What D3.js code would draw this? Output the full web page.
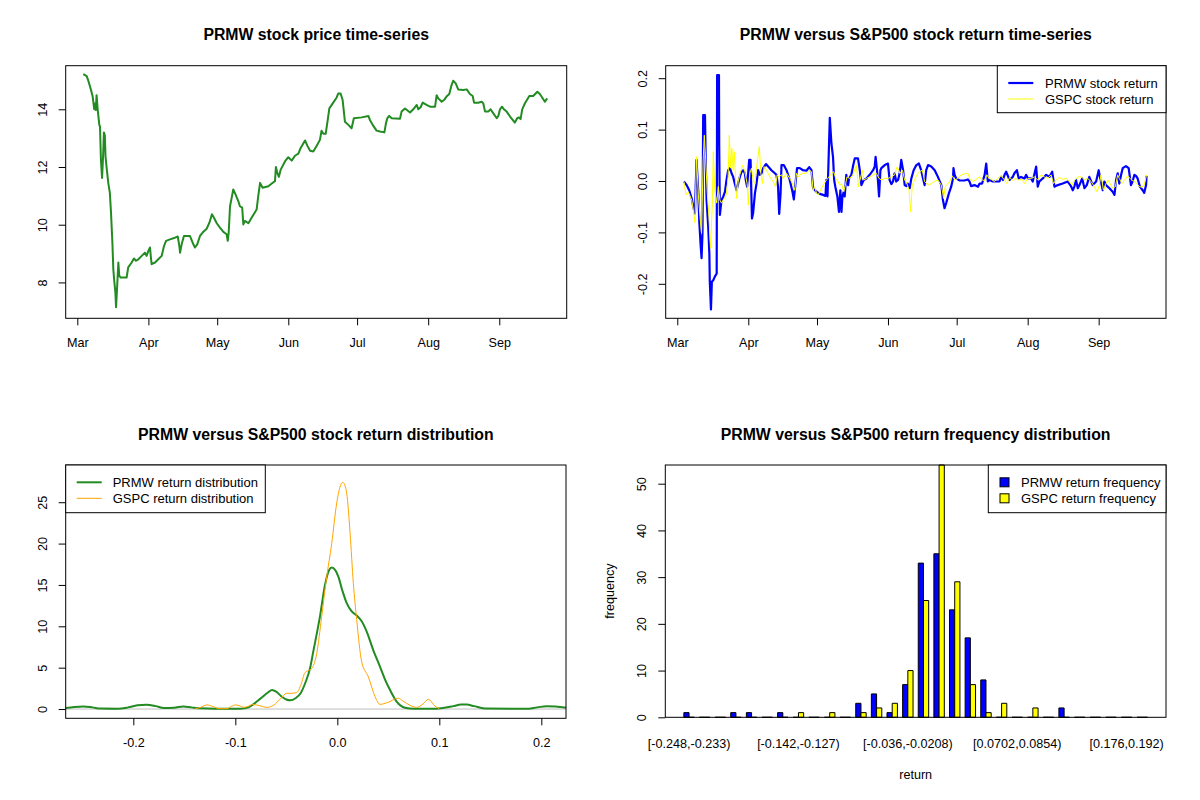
<!DOCTYPE html>
<html>
<head>
<meta charset="utf-8">
<script src="https://cdn.jsdelivr.net/npm/d3@7"></script>
<style>
  body { margin: 0; background: #fff; }
  svg text { font-family: "Liberation Sans", Arial, sans-serif; fill: #000; }
</style>
</head>
<body>
<svg id="chart" width="1200" height="800"></svg>
<script>
// ---- data ----
// days counted from 2020-03-01
const priceDays = [2.6,4.1,4.8,5.8,6.7,7.4,7.8,8.1,8.4,8.9,9.6,9.9,10.3,10.8,11.3,11.6,12.0,12.3,12.8,13.5,14.2,14.7,15.3,15.7,16.1,16.6,16.9,17.4,17.9,18.3,18.9,21.5,22.2,23.7,24.7,25.6,26.6,28.1,29.5,30.2,31.0,31.7,32.1,32.4,33.9,35.3,36.8,37.8,38.7,40.4,42.6,43.8,44.5,44.8,45.5,46.5,49.1,50.6,51.3,52.3,53.5,54.9,56.4,57.6,58.7,59.6,60.8,62.2,63.7,65.1,65.6,66.0,66.6,67.3,68.0,68.7,70.2,70.9,71.9,72.4,73.1,74.6,76.0,78.2,78.9,79.7,80.8,83.3,85.5,86.2,86.6,87.2,87.9,88.7,90.6,92.0,93.5,94.9,96.4,97.4,99.3,100.3,101.5,102.9,104.4,105.8,106.5,107.3,108.3,109.2,109.9,111.6,113.1,113.8,114.8,115.7,116.7,118.2,119.6,120.6,124.0,126.9,127.6,128.8,130.5,132.0,133.9,134.6,135.2,136.0,137.1,140.7,141.4,142.9,145.1,146.5,148.0,148.7,149.7,150.6,152.3,153.8,156.0,156.7,157.4,158.9,159.9,161.0,162.2,163.2,163.9,165.0,166.1,168.3,169.8,171.2,172.4,173.0,174.8,176.3,177.0,177.8,179.2,180.2,181.4,182.9,183.6,184.3,185.2,186.0,187.2,188.7,190.8,191.8,192.6,193.3,194.0,195.2,197.1,198.8,200.6,201.7,203.9,204.9];
const prices = [15.22,15.15,14.99,14.72,14.44,14.0,14.2,13.98,14.49,13.98,13.46,13.4,12.25,11.62,12.48,13.2,13.1,12.37,11.97,11.45,11.1,10.41,9.38,8.46,8.06,7.66,7.14,7.89,8.69,8.23,8.17,8.17,8.52,8.69,8.83,8.75,8.8,8.92,9.03,8.92,9.09,9.21,8.86,8.63,8.69,8.8,8.92,9.26,9.44,9.49,9.55,9.59,9.26,9.03,9.32,9.61,9.61,9.32,9.21,9.32,9.61,9.75,9.86,10.07,10.36,10.24,10.05,9.9,9.75,9.67,9.44,9.72,10.64,10.93,11.22,11.1,10.82,10.64,10.59,10.01,10.13,10.05,10.24,10.53,10.99,11.45,11.28,11.33,11.47,11.51,12.0,11.8,11.66,11.91,12.2,12.34,12.22,12.39,12.46,12.66,12.92,12.74,12.56,12.54,12.74,12.94,13.26,13.15,13.15,13.63,14.03,14.23,14.41,14.55,14.55,14.32,13.57,13.46,13.34,13.69,13.72,13.77,13.63,13.46,13.26,13.23,13.2,13.52,13.69,13.77,13.69,13.67,13.92,14.03,13.89,14.0,14.15,14.0,14.07,14.23,14.15,14.09,14.09,14.49,14.38,14.26,14.32,14.44,14.53,14.84,14.99,14.9,14.69,14.67,14.69,14.53,14.46,14.23,14.23,14.26,14.21,13.92,13.92,14.0,13.86,13.69,13.77,14.0,14.09,14.0,13.92,13.75,13.54,13.69,13.72,13.66,14.0,14.21,14.46,14.46,14.61,14.53,14.26,14.38];

const prmwRetDays = [2.9,4.1,5.2,6.3,7.0,7.7,8.4,9.2,9.6,10.2,10.6,11.0,11.3,12.1,12.4,12.8,13.5,14.0,14.2,14.7,15.1,15.7,16.4,17.2,17.4,18.2,18.3,18.6,19.3,20.1,20.8,21.5,22.2,23.0,23.7,24.4,25.1,25.9,26.6,27.3,28.1,28.8,29.5,29.9,30.5,31.4,32.0,32.6,33.1,33.9,34.6,35.3,36.0,36.8,37.5,38.7,39.7,41.1,42.6,43.3,44.0,44.5,45.1,45.5,46.5,47.7,49.1,50.3,50.9,51.6,52.3,53.5,54.9,56.4,57.6,58.6,59.3,60.8,62.2,63.7,64.7,65.1,65.6,66.1,66.6,67.3,68.0,68.5,69.0,69.9,70.6,71.2,71.7,72.1,72.7,73.1,73.8,74.6,75.0,76.0,76.7,77.5,78.9,79.7,80.4,81.4,82.6,84.0,85.5,86.2,86.6,87.2,87.6,88.1,88.7,89.1,90.6,92.0,92.7,93.5,94.2,94.9,95.6,96.4,97.1,97.8,98.6,99.3,100.0,100.7,101.5,102.2,103.2,104.4,105.5,106.5,107.3,108.0,108.7,109.5,110.9,112.4,113.8,115.3,116.0,116.7,117.4,118.6,119.6,120.4,120.6,121.1,121.8,123.3,125.4,126.9,127.6,128.3,129.8,131.3,132.0,133.1,134.2,134.9,135.6,136.3,137.8,140.7,141.4,142.2,142.9,143.6,145.1,146.5,147.2,148.3,149.1,150.1,151.6,152.3,153.1,154.5,155.2,156.7,157.4,158.1,159.6,161.1,162.5,163.7,164.7,166.1,168.3,170.5,171.9,172.7,173.4,174.1,174.9,175.6,176.8,177.8,178.8,179.9,181.4,182.9,184.0,184.7,185.8,186.5,187.2,188.7,190.1,190.9,191.6,192.3,193.0,193.8,194.5,195.9,197.1,198.1,198.8,199.6,200.3,201.0,202.0,203.2,203.9,204.7,204.9];
const prmwReturns = [-0.001,-0.008,-0.018,-0.034,-0.050,-0.063,0.041,-0.024,-0.079,-0.125,-0.150,-0.102,0.128,0.128,0.041,-0.037,-0.089,-0.141,-0.196,-0.250,-0.196,-0.193,-0.186,-0.180,0.206,0.206,0.070,-0.066,-0.037,-0.030,-0.021,0.002,0.021,0.025,0.015,0.008,-0.005,-0.018,-0.005,0.008,0.018,0.021,0.015,0.002,-0.011,0.041,0.041,-0.073,-0.063,-0.024,-0.005,0.021,0.012,0.015,0.025,0.033,0.028,0.021,0.015,0.012,-0.011,-0.064,-0.024,0.031,0.031,0.021,0.002,-0.021,-0.036,-0.005,0.025,0.025,0.021,0.020,0.027,0.021,-0.014,-0.021,-0.025,-0.027,-0.029,0.002,-0.030,0.047,0.123,0.073,0.047,0.002,-0.011,-0.030,-0.060,-0.018,-0.060,-0.030,-0.021,-0.030,0.012,-0.008,0.005,0.012,0.028,0.044,0.044,0.021,-0.008,0.002,0.005,0.012,0.021,0.028,0.047,0.021,0.002,-0.030,0.021,0.025,0.031,0.034,0.002,-0.006,-0.001,0.015,-0.001,0.002,0.015,0.041,0.021,-0.008,-0.010,-0.005,-0.014,0.005,0.021,0.031,0.034,0.021,0.005,-0.008,0.021,0.031,0.028,0.021,0.008,-0.008,-0.037,-0.053,-0.043,-0.024,-0.011,0.005,0.025,0.012,0.005,0.001,0.001,0.003,-0.001,-0.010,-0.008,-0.011,-0.005,-0.005,0.012,0.034,-0.001,0.002,-0.001,-0.001,0.008,0.002,0.012,0.018,0.002,0.008,0.015,0.021,0.005,0.008,0.005,0.012,0.005,0.005,-0.001,0.028,-0.011,-0.001,0.005,0.012,0.008,0.018,-0.011,-0.008,-0.005,-0.001,-0.010,-0.018,-0.011,0.002,-0.014,-0.008,0.005,-0.014,-0.008,0.008,-0.008,-0.001,0.021,0.005,-0.018,-0.001,-0.008,-0.014,-0.021,-0.027,0.002,0.015,-0.005,0.012,0.025,0.029,0.025,-0.008,-0.001,0.012,0.010,0.005,-0.011,-0.018,-0.023,-0.008,0.010];

const gspcRetDays = [2.9,3.8,4.8,6.3,7.0,7.7,8.4,9.2,9.9,10.6,11.3,11.8,12.4,13.1,13.8,14.5,15.3,15.7,16.4,17.2,17.9,18.6,19.3,20.1,20.8,21.5,22.2,22.7,23.3,23.8,24.4,24.9,25.4,25.9,26.6,27.3,28.5,29.5,30.5,31.0,31.7,32.4,33.1,33.9,34.6,35.8,36.5,37.2,37.9,39.0,40.4,41.9,42.9,43.6,44.3,45.5,46.2,47.7,49.1,50.3,51.3,52.0,52.8,53.5,54.9,56.4,57.6,58.6,59.3,60.0,60.8,61.5,62.2,63.7,65.1,65.8,67.3,68.3,69.2,70.2,70.9,71.7,72.7,73.4,74.1,75.3,76.7,78.2,79.1,80.1,80.8,81.4,82.6,84.0,85.5,86.9,88.1,89.1,90.6,92.0,93.5,94.9,95.9,96.8,97.1,98.3,99.3,100.3,101.2,101.9,102.6,103.6,104.7,105.8,107.0,108.0,109.5,110.9,112.4,113.8,115.3,116.3,117.0,118.2,119.2,120.1,121.1,122.5,124.0,125.4,126.9,127.9,129.1,130.5,132.0,133.1,134.2,135.2,136.1,137.1,138.5,140.0,141.4,142.9,143.9,145.1,146.5,147.7,149.1,150.6,151.6,153.1,154.5,156.0,157.4,158.9,160.3,161.8,163.2,164.3,165.4,166.9,168.3,169.8,171.2,172.4,173.4,174.9,176.3,177.8,179.2,180.7,182.1,183.3,184.3,185.0,186.1,187.2,188.0,189.0,190.1,191.3,192.3,193.0,194.2,195.2,196.7,198.1,199.6,200.6,201.8,202.9,203.9,204.9];
const gspcReturns = [-0.001,-0.027,-0.021,-0.037,-0.056,-0.081,0.047,-0.027,-0.069,-0.102,0.041,0.089,0.041,-0.024,-0.069,-0.131,-0.043,0.057,-0.018,-0.043,-0.011,-0.037,-0.043,-0.037,-0.034,-0.024,0.008,0.089,0.025,0.064,0.021,0.057,0.008,-0.034,-0.001,0.012,0.031,0.018,-0.005,-0.047,0.015,0.025,0.002,-0.005,0.025,0.067,0.015,-0.005,0.028,0.021,0.008,-0.001,-0.011,0.012,0.008,0.012,0.005,0.015,0.005,-0.005,-0.018,0.015,0.008,0.012,0.015,0.015,0.021,0.018,-0.018,-0.011,-0.024,-0.027,-0.021,-0.008,0.002,0.005,0.015,0.018,0.005,-0.001,-0.008,-0.005,-0.021,-0.008,0.008,0.005,0.012,0.031,-0.011,0.008,0.021,0.002,0.005,0.008,0.012,0.015,0.005,0.002,0.005,0.005,0.008,0.012,0.027,0.021,0.015,0.021,0.002,-0.005,-0.018,-0.060,-0.008,0.002,0.012,0.018,0.021,-0.001,-0.008,-0.005,-0.001,0.002,-0.008,-0.034,-0.011,-0.005,0.001,0.010,0.002,0.005,0.012,0.014,0.015,0.003,-0.001,0.003,0.008,0.002,0.001,0.012,0.005,0.003,-0.001,0.005,0.010,0.002,-0.005,0.007,0.001,0.005,0.002,0.003,-0.005,0.005,0.005,0.008,0.002,0.012,0.008,0.005,0.012,-0.005,0.002,0.007,0.003,0.005,-0.001,-0.008,0.001,0.008,0.008,0.003,0.005,-0.001,-0.011,-0.021,-0.008,0.012,-0.018,-0.005,0.002,-0.005,-0.014,-0.011,0.012,0.005,-0.005,0.001,0.010,0.003,-0.001,-0.005,-0.011,-0.012,-0.008,0.012];

// kernel density curves (return, density)
const prmwDensX = [-0.2663,-0.258,-0.249,-0.240,-0.232,-0.215,-0.205,-0.196,-0.187,-0.178,-0.170,-0.160,-0.151,-0.143,-0.134,-0.120,-0.095,-0.087,-0.076,-0.068,-0.064,-0.060,-0.055,-0.050,-0.046,-0.041,-0.036,-0.031,-0.0268,-0.0235,-0.020,-0.017,-0.0121,-0.008,-0.0055,-0.002,0.001,0.005,0.0092,0.0141,0.019,0.0239,0.0288,0.0353,0.0419,0.047,0.0517,0.0582,0.0664,0.075,0.095,0.105,0.1137,0.1215,0.1269,0.134,0.1465,0.185,0.196,0.205,0.214,0.2242];
const prmwDensY = [0.12,0.25,0.32,0.2,0.05,0.03,0.2,0.45,0.52,0.35,0.12,0.15,0.32,0.2,0.08,0.03,0.03,0.2,1.2,2.0,2.3,2.1,1.55,1.15,1.05,1.3,1.9,3.3,4.9,7.0,9.2,11.2,15.0,16.8,17.1,16.8,16.0,14.3,12.8,11.8,11.3,10.6,9.35,7.1,5.1,3.5,2.3,0.9,0.16,0.03,0.03,0.15,0.35,0.55,0.55,0.35,0.05,0.03,0.2,0.35,0.3,0.15];
const gspcDensX = [-0.1395,-0.134,-0.128,-0.122,-0.116,-0.108,-0.104,-0.100,-0.095,-0.092,-0.088,-0.083,-0.076,-0.069,-0.062,-0.056,-0.0496,-0.0446,-0.0398,-0.0355,-0.0317,-0.0251,-0.0202,-0.0153,-0.0104,-0.0055,-0.0006,0.003,0.0053,0.0075,0.0092,0.0125,0.0157,0.019,0.0239,0.0304,0.037,0.0419,0.047,0.0517,0.056,0.0598,0.064,0.068,0.0778,0.084,0.0892,0.0958,0.100];
const gspcDensY = [0.03,0.2,0.5,0.3,0.05,0.05,0.3,0.5,0.35,0.2,0.3,0.55,0.4,0.2,0.5,1.2,1.9,1.9,2.0,3.0,4.4,4.9,6.7,11.2,16.0,20.0,24.9,27.0,27.4,27.0,26.1,21.3,15.2,10.8,5.7,3.9,1.5,0.56,0.7,0.9,1.2,1.3,1.0,0.68,0.2,0.6,1.17,0.36,0.05];

// return frequency table, 30 bins
const histLabels = ["[-0.248,-0.233)", "[-0.142,-0.127)", "[-0.036,-0.0208)", "[0.0702,0.0854)", "[0.176,0.192)"];
const histLabelBins = [0, 7, 14, 21, 28];
const prmwCounts = [1,0,0,1,1,0,1,0,0,0,0,3,5,1,7,33,35,23,17,8,0,0,0,0,2,0,0,0,0,0];
const gspcCounts = [0,0,0,0,0,0,0,1,0,1,0,1,2,3,10,25,54,29,7,1,3,0,2,0,0,0,0,0,0,0];

const monthTicks = ["2020-03-01","2020-04-01","2020-05-01","2020-06-01","2020-07-01","2020-08-01","2020-09-01"];

// ---- drawing ----
const svg = d3.select("#chart");
const day0 = Date.UTC(2020, 2, 1);
const toDate = d => new Date(day0 + d * 864e5);
const parseDay = d3.utcParse("%Y-%m-%d");
const AXIS_FS = 12.6, LEGEND_FS = 13, TITLE_FS = 15.8;

function frame(b) {
  svg.append("rect")
    .attr("x", b.x0).attr("y", b.y0)
    .attr("width", b.x1 - b.x0).attr("height", b.y1 - b.y0)
    .attr("fill", "none").attr("stroke", "#000").attr("stroke-width", 1);
}

function title(b, txt) {
  svg.append("text")
    .attr("x", (b.x0 + b.x1) / 2).attr("y", b.y0 - 25.5)
    .attr("text-anchor", "middle")
    .attr("font-weight", "bold").attr("font-size", TITLE_FS)
    .text(txt);
}

function bottomAxis(b, scale, ticks, fmt) {
  const g = svg.append("g")
    .attr("transform", `translate(0,${b.y1})`)
    .call(d3.axisBottom(scale).tickValues(ticks).tickFormat(fmt).tickSize(7).tickPadding(13));
  g.select(".domain").remove();
  g.attr("font-family", null).attr("font-size", AXIS_FS);
  g.selectAll("line").attr("stroke", "#000");
}

function leftAxis(b, scale, ticks, fmt) {
  const g = svg.append("g")
    .attr("transform", `translate(${b.x0},0)`)
    .call(d3.axisLeft(scale).tickValues(ticks).tickFormat("").tickSize(7));
  g.select(".domain").remove();
  g.attr("font-family", null).attr("font-size", AXIS_FS);
  g.selectAll("line").attr("stroke", "#000");
  g.selectAll(".tick").append("text")
    .attr("transform", "rotate(-90)")
    .attr("x", 0).attr("y", -19)
    .attr("text-anchor", "middle")
    .text(fmt);
}

function lineLegend(b, items) {
  const lg = svg.append("g");
  lg.append("rect")
    .attr("x", b.x0).attr("y", b.y0)
    .attr("width", b.x1 - b.x0).attr("height", b.y1 - b.y0)
    .attr("fill", "#fff").attr("stroke", "#000");
  items.forEach((it, i) => {
    const y = b.y0 + 17.3 + i * 16;
    if (it.box) {
      lg.append("rect").attr("x", b.x0 + 11.7).attr("y", y - 4.5)
        .attr("width", 9).attr("height", 9)
        .attr("fill", it.color).attr("stroke", "#000");
    } else {
      lg.append("line").attr("x1", b.x0 + 11).attr("x2", b.x0 + 36)
        .attr("y1", y).attr("y2", y)
        .attr("stroke", it.color).attr("stroke-width", it.width);
    }
    lg.append("text").attr("x", b.x0 + it.tx).attr("y", y + 4.6)
      .attr("font-size", LEGEND_FS).text(it.label);
  });
}

const fmt1 = d => d.toFixed(1);

// panel 1: price
{
  const b = { x0: 65.7, x1: 566.7, y0: 65.7, y1: 318.3 };
  const x = d3.scaleUtc().domain([toDate(-5.06), toDate(213.4)]).range([b.x0, b.x1]);
  const y = d3.scaleLinear().domain([6.756, 15.511]).range([b.y1, b.y0]);
  svg.append("path")
    .datum(d3.zip(priceDays, prices))
    .attr("fill", "none").attr("stroke", "#228B22").attr("stroke-width", 2)
    .attr("stroke-linejoin", "round")
    .attr("d", d3.line().x(d => x(toDate(d[0]))).y(d => y(d[1])));
  frame(b);
  title(b, "PRMW stock price time-series");
  bottomAxis(b, x, monthTicks.map(parseDay), d3.utcFormat("%b"));
  leftAxis(b, y, [8, 10, 12, 14], d => d);
}

// panel 2: returns
{
  const b = { x0: 665.7, x1: 1166, y0: 65.7, y1: 318.3 };
  const x = d3.scaleUtc().domain([toDate(-5.06), toDate(213.4)]).range([b.x0, b.x1]);
  const y = d3.scaleLinear().domain([-0.2671, 0.2243]).range([b.y1, b.y0]);
  const ln = d3.line().x(d => x(toDate(d[0]))).y(d => y(d[1]));
  svg.append("path")
    .datum(d3.zip(prmwRetDays, prmwReturns))
    .attr("fill", "none").attr("stroke", "#0000FF").attr("stroke-width", 2.2)
    .attr("stroke-linejoin", "round").attr("d", ln);
  svg.append("path")
    .datum(d3.zip(gspcRetDays, gspcReturns))
    .attr("fill", "none").attr("stroke", "#FFFF00").attr("stroke-width", 1)
    .attr("stroke-linejoin", "round").attr("d", ln);
  frame(b);
  title(b, "PRMW versus S&P500 stock return time-series");
  bottomAxis(b, x, monthTicks.map(parseDay), d3.utcFormat("%b"));
  leftAxis(b, y, [-0.2, -0.1, 0, 0.1, 0.2], fmt1);
  lineLegend({ x0: 997.3, x1: 1166, y0: 65.7, y1: 112.7 }, [
    { label: "PRMW stock return", color: "#0000FF", width: 2.2, tx: 47.7 },
    { label: "GSPC stock return", color: "#FFFF00", width: 1, tx: 47.7 }
  ]);
}

// panel 3: density
{
  const b = { x0: 65.7, x1: 566, y0: 465, y1: 718.3 };
  const x = d3.scaleLinear().domain([-0.2663, 0.2242]).range([b.x0, b.x1]);
  const y = d3.scaleLinear().domain([-1.12, 29.5]).range([b.y1, b.y0]);
  svg.append("line")
    .attr("x1", b.x0).attr("x2", b.x1).attr("y1", y(0)).attr("y2", y(0))
    .attr("stroke", "#BEBEBE").attr("stroke-width", 1);
  const ln = d3.line().curve(d3.curveMonotoneX).x(d => x(d[0])).y(d => y(d[1]));
  svg.append("path")
    .datum(d3.zip(prmwDensX, prmwDensY))
    .attr("fill", "none").attr("stroke", "#228B22").attr("stroke-width", 2)
    .attr("d", ln);
  svg.append("path")
    .datum(d3.zip(gspcDensX, gspcDensY))
    .attr("fill", "none").attr("stroke", "#FFA500").attr("stroke-width", 1)
    .attr("d", ln);
  frame(b);
  title(b, "PRMW versus S&P500 stock return distribution");
  bottomAxis(b, x, [-0.2, -0.1, 0, 0.1, 0.2], fmt1);
  leftAxis(b, y, [0, 5, 10, 15, 20, 25], d => d);
  lineLegend({ x0: 65.7, x1: 265.3, y0: 465, y1: 512.7 }, [
    { label: "PRMW return distribution", color: "#228B22", width: 2, tx: 47 },
    { label: "GSPC return distribution", color: "#FFA500", width: 1, tx: 47 }
  ]);
}

// panel 4: frequency barplot, two bars per bin, one bar of space between bins
{
  const b = { x0: 665.3, x1: 1166, y0: 465, y1: 717.3 };
  const x = d3.scaleLinear().domain([-2.56, 93.56]).range([b.x0, b.x1]);
  const y = d3.scaleLinear().domain([0, 54]).range([b.y1, b.y0]);
  const bars = [];
  prmwCounts.forEach((c, i) => bars.push({ u: 1 + 3 * i, v: c, fill: "#0000FF" }));
  gspcCounts.forEach((c, i) => bars.push({ u: 2 + 3 * i, v: c, fill: "#FFFF00" }));
  svg.append("g").selectAll("path")
    .data(bars)
    .join("path")
    .attr("d", d => `M${x(d.u)},${y(0)}V${y(d.v)}H${x(d.u + 1)}V${y(0)}Z`)
    .attr("fill", d => d.fill)
    .attr("stroke", "#000").attr("stroke-width", 1);
  frame(b);
  title(b, "PRMW versus S&P500 return frequency distribution");
  svg.append("g").selectAll("text")
    .data(histLabelBins)
    .join("text")
    .attr("x", i => x(2 + 3 * i)).attr("y", b.y1 + 31)
    .attr("text-anchor", "middle").attr("font-size", AXIS_FS)
    .text((i, k) => histLabels[k]);
  leftAxis(b, y, [0, 10, 20, 30, 40, 50], d => d);
  svg.append("text")
    .attr("x", (b.x0 + b.x1) / 2).attr("y", b.y1 + 62)
    .attr("text-anchor", "middle").attr("font-size", AXIS_FS).text("return");
  svg.append("text")
    .attr("transform", `translate(${b.x0 - 51},${(b.y0 + b.y1) / 2}) rotate(-90)`)
    .attr("text-anchor", "middle").attr("font-size", AXIS_FS).text("frequency");
  lineLegend({ x0: 988.3, x1: 1166, y0: 465, y1: 512.7 }, [
    { label: "PRMW return frequency", color: "#0000FF", box: true, tx: 32.7 },
    { label: "GSPC return frequency", color: "#FFFF00", box: true, tx: 32.7 }
  ]);
}
</script>
</body>
</html>
